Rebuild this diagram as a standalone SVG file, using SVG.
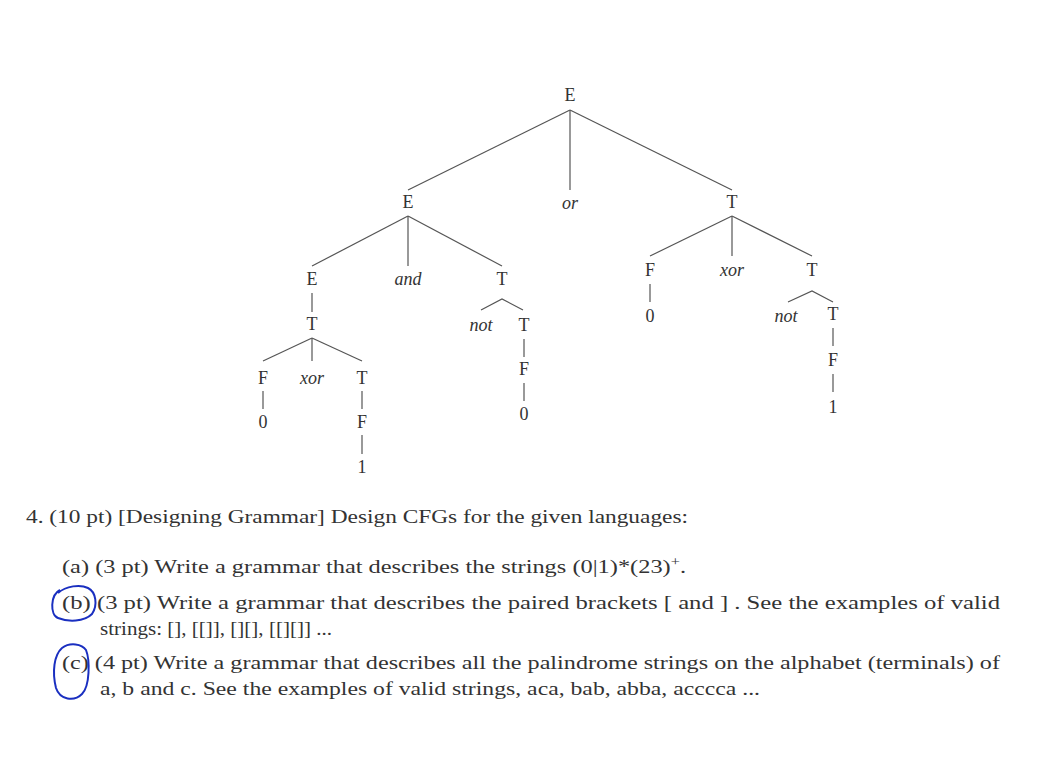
<svg xmlns="http://www.w3.org/2000/svg" width="1048" height="759" viewBox="0 0 1048 759">
<style>
text{font-family:"Liberation Serif","DejaVu Serif",serif;fill:#333}
.n{font-size:18px;text-anchor:middle}
.i{font-style:italic}
.e line,.e polyline{stroke:#555;stroke-width:1.2;fill:none}
.p{font-size:18px}
.ink{stroke:#1a2fc0;stroke-width:2;fill:none}
</style>
<rect width="1048" height="759" fill="#fff"/>
<g id="connectors" class="e">
<line x1="570" y1="110" x2="408" y2="190"/><line x1="570" y1="110" x2="570" y2="190"/><line x1="570" y1="110" x2="732" y2="190"/>
<line x1="408" y1="216" x2="312" y2="266"/><line x1="408" y1="216" x2="408" y2="266"/><line x1="408" y1="216" x2="502" y2="266"/>
<line x1="312" y1="293" x2="312" y2="312"/>
<line x1="312" y1="338" x2="263" y2="361"/><line x1="312" y1="338" x2="312" y2="361"/><line x1="312" y1="338" x2="362" y2="361"/>
<line x1="263" y1="391" x2="263" y2="409"/>
<line x1="362" y1="391" x2="362" y2="409"/><line x1="362" y1="435" x2="362" y2="454"/>
<polyline points="481,310 502,299 523,310"/>
<line x1="524" y1="339" x2="524" y2="357"/><line x1="524" y1="383" x2="524" y2="401"/>
<line x1="732" y1="216" x2="650" y2="256"/><line x1="732" y1="216" x2="732" y2="256"/><line x1="732" y1="216" x2="812" y2="256"/>
<line x1="650" y1="284" x2="650" y2="302"/>
<polyline points="788,302 812,291 833,302"/>
<line x1="833" y1="328" x2="833" y2="346"/><line x1="833" y1="374" x2="833" y2="392"/>
</g>
<g id="nodes">
<text class="n" x="570" y="101">E</text>
<text class="n" x="408" y="208">E</text>
<text class="n i" x="570" y="209">or</text>
<text class="n" x="732" y="208">T</text>
<text class="n" x="312" y="285">E</text>
<text class="n i" x="408" y="285">and</text>
<text class="n" x="502" y="285">T</text>
<text class="n" x="312" y="330">T</text>
<text class="n" x="263" y="384">F</text>
<text class="n i" x="312" y="384">xor</text>
<text class="n" x="362" y="384">T</text>
<text class="n" x="263" y="428">0</text>
<text class="n" x="362" y="428">F</text>
<text class="n" x="362" y="473">1</text>
<text class="n i" x="481" y="331">not</text>
<text class="n" x="524" y="331">T</text>
<text class="n" x="524" y="375">F</text>
<text class="n" x="524" y="420">0</text>
<text class="n" x="650" y="276">F</text>
<text class="n i" x="732" y="276">xor</text>
<text class="n" x="812" y="276">T</text>
<text class="n" x="650" y="322">0</text>
<text class="n i" x="786" y="322">not</text>
<text class="n" x="833" y="320">T</text>
<text class="n" x="833" y="366">F</text>
<text class="n" x="833" y="413">1</text>
</g>
<g id="question">
<text class="p" x="26" y="523" textLength="662" lengthAdjust="spacingAndGlyphs">4. (10 pt) [Designing Grammar] Design CFGs for the given languages:</text>
<text class="p" x="62" y="573" textLength="624" lengthAdjust="spacingAndGlyphs">(a) (3 pt) Write a grammar that describes the strings (0|1)*(23)<tspan font-size="12" dy="-7">+</tspan><tspan dy="7">.</tspan></text>
<text class="p" x="62" y="609" textLength="938" lengthAdjust="spacingAndGlyphs">(b) (3 pt) Write a grammar that describes the paired brackets [ and ] .  See the examples of valid</text>
<text class="p" x="100" y="635" textLength="232" lengthAdjust="spacingAndGlyphs">strings: [], [[]], [][], [[][]] ...</text>
<text class="p" x="62" y="669" textLength="938" lengthAdjust="spacingAndGlyphs">(c) (4 pt) Write a grammar that describes all the palindrome strings on the alphabet (terminals) of</text>
<text class="p" x="100" y="695" textLength="660" lengthAdjust="spacingAndGlyphs">a, b and c. See the examples of valid strings, aca, bab, abba, acccca ...</text>
</g>
<g id="annotations">
<path class="ink" d="M60 590 C50 595 50 615 58 618 C68 622 84 622 92 614 C98 605 96 592 88 588 C80 584 66 586 58 593"/>
<path class="ink" d="M62 648 C54 655 52 672 56 688 C60 700 74 702 82 694 C90 686 90 660 86 650 C82 644 70 642 62 648"/>
</g>
</svg>
